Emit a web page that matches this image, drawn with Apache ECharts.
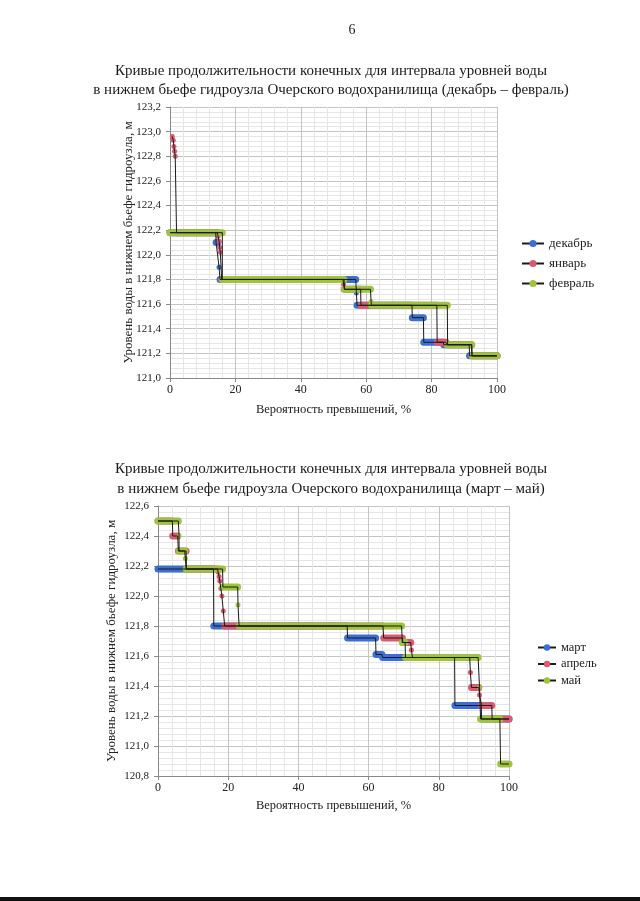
<!DOCTYPE html>
<html>
<head>
<meta charset="utf-8">
<script src="https://cdn.jsdelivr.net/npm/echarts@6/dist/echarts.min.js"></script>
<style>
html,body{margin:0;padding:0;background:#fff;}
#chart{width:640px;height:901px;}
#bar{position:absolute;left:0;top:897px;width:640px;height:4px;background:#111;}
</style>
</head>
<body>
<div id="chart"></div>
<div id="bar"></div>
<script>
// ---- Data: steps [xStart, xEnd, level]; xStart == xEnd marks a single point ----
const months1 = ['декабрь', 'январь', 'февраль'];
const months2 = ['март', 'апрель', 'май'];

const dec = [
  [0, 14.0, 122.18], [14.1, 14.6, 122.10], [15.0, 15.0, 121.90], [15.3, 56.8, 121.80],
  [57.0, 57.0, 121.69], [57.2, 74.0, 121.59], [74.1, 77.5, 121.49], [77.6, 83.6, 121.29],
  [83.7, 91.5, 121.27], [91.6, 100, 121.18]
];
const jan = [
  [0.7, 0.7, 122.96], [1.0, 1.0, 122.93], [1.2, 1.2, 122.88], [1.4, 1.4, 122.84], [1.6, 1.6, 122.80],
  [2.0, 14.5, 122.18], [14.7, 14.7, 122.15], [15.0, 15.0, 122.11], [15.2, 15.2, 122.06],
  [15.4, 15.4, 122.02], [15.8, 52.9, 121.80], [53.1, 53.1, 121.76], [53.3, 58.3, 121.72],
  [58.4, 81.6, 121.59], [81.7, 84.4, 121.29], [84.6, 92.2, 121.27], [92.3, 100, 121.18]
];
const feb = [
  [0, 16.0, 122.18], [16.0, 53.2, 121.80], [53.4, 61.3, 121.72], [61.5, 61.5, 121.62],
  [61.6, 84.8, 121.59], [84.9, 92.3, 121.27], [92.4, 100, 121.18]
];
const mar = [
  [0, 15.8, 122.18], [15.9, 53.9, 121.80], [54.0, 62.0, 121.72], [62.1, 63.8, 121.61],
  [64.0, 84.5, 121.59], [84.6, 92.1, 121.27], [92.2, 100, 121.18]
];
const apr = [
  [0, 4.1, 122.50], [4.2, 5.6, 122.40], [5.8, 8.0, 122.30], [8.1, 17.0, 122.18],
  [17.1, 17.1, 122.16], [17.4, 17.4, 122.13], [17.6, 17.6, 122.10], [17.9, 17.9, 122.05],
  [18.2, 18.2, 122.00], [18.6, 18.6, 121.90], [19.0, 64.1, 121.80], [64.3, 69.6, 121.72],
  [69.8, 72.0, 121.69], [72.2, 72.2, 121.64], [72.5, 88.8, 121.59], [89.0, 89.0, 121.49],
  [89.3, 91.4, 121.39], [91.6, 91.6, 121.34], [92.2, 95.1, 121.27], [95.2, 100, 121.18]
];
const may = [
  [0, 5.8, 122.50], [6.0, 6.0, 122.40], [6.0, 7.6, 122.30], [7.8, 7.8, 122.25],
  [8.0, 18.4, 122.18], [18.5, 22.7, 122.06], [22.8, 22.8, 121.94], [23.1, 69.4, 121.80],
  [69.6, 70.4, 121.69], [70.5, 91.2, 121.59], [91.6, 91.6, 121.39], [91.9, 97.4, 121.18],
  [97.6, 100, 120.88]
];

const colors = ['#3b6fd4', '#dc5a70', '#9dc43a'];
const title1 = 'Кривые продолжительности конечных для интервала уровней воды\nв нижнем бьефе гидроузла Очерского водохранилища (декабрь – февраль)';
const title2 = 'Кривые продолжительности конечных для интервала уровней воды\nв нижнем бьефе гидроузла Очерского водохранилища (март – май)';
const xName = 'Вероятность превышений, %';
const yName = 'Уровень воды в нижнем бьефе гидроузла, м';

const serif = 'Liberation Serif, Times New Roman, serif';

function bandSeries(name, data, color, gi) {
  return {
    name: name + '_band', type: 'custom', xAxisIndex: gi, yAxisIndex: gi, z: 2,
    encode: { x: [0, 1], y: 2 },
    data: data,
    renderItem: function (params, api) {
      const p1 = api.coord([api.value(0), api.value(2)]);
      const p2 = api.coord([api.value(1), api.value(2)]);
      if (Math.abs(p2[0] - p1[0]) < 0.5) {
        return { type: 'circle', shape: { cx: p1[0], cy: p1[1], r: 2.5 }, style: { fill: color } };
      }
      return {
        type: 'line', shape: { x1: p1[0], y1: p1[1], x2: p2[0], y2: p2[1] },
        style: { stroke: color, lineWidth: 7, lineCap: 'round' }
      };
    }
  };
}
function pathSeries(name, data, color, gi) {
  const pts = [];
  data.forEach(s => { pts.push([s[0], s[2]]); if (s[1] !== s[0]) pts.push([s[1], s[2]]); });
  return {
    name: name, type: 'line', xAxisIndex: gi, yAxisIndex: gi, z: 3,
    data: pts, symbol: 'circle', symbolSize: 6, showSymbol: false,
    itemStyle: { color: color },
    lineStyle: { color: '#1a1a1a', width: 1 },
    emphasis: { disabled: true }, animation: false
  };
}

function xAxisCfg(gi) {
  return {
    type: 'value', gridIndex: gi, min: 0, max: 100, interval: 20,
    name: xName, nameLocation: 'middle', nameGap: gi === 0 ? 25 : 23,
    nameTextStyle: { fontFamily: serif, fontSize: 12.5, color: '#222' },
    axisLine: { show: true, onZero: false, lineStyle: { color: '#888' } },
    axisTick: { show: true, length: 4, lineStyle: { color: '#888' } },
    axisLabel: { fontFamily: serif, fontSize: 12, color: '#222', margin: 6 },
    splitLine: { show: true, lineStyle: { color: '#c4c4c4' } },
    minorTick: { show: false, splitNumber: 5 },
    minorSplitLine: { show: true, lineStyle: { color: '#e6e6e6' } }
  };
}
function yAxisCfg(gi, min, max) {
  return {
    type: 'value', gridIndex: gi, min: min, max: max, interval: 0.2,
    name: yName, nameLocation: 'middle', nameGap: gi === 0 ? 35 : 40,
    nameMoveOverlap: false,
    nameTextStyle: { fontFamily: serif, fontSize: 13, color: '#222' },
    axisLine: { show: true, lineStyle: { color: '#888' } },
    axisTick: { show: true, length: 4, lineStyle: { color: '#888' } },
    axisLabel: { fontFamily: serif, fontSize: 11, color: '#222', margin: 9,
      formatter: v => v.toFixed(1).replace('.', ',') },
    splitLine: { show: true, lineStyle: { color: '#c4c4c4' } },
    minorTick: { show: false, splitNumber: 5 },
    minorSplitLine: { show: true, lineStyle: { color: '#e6e6e6' } }
  };
}

const sets1 = [dec, jan, feb];
const sets2 = [mar, apr, may];
const series = [];
sets1.forEach((d, i) => series.push(bandSeries(months1[i], d, colors[i], 0)));
sets2.forEach((d, i) => series.push(bandSeries(months2[i], d, colors[i], 1)));
sets1.forEach((d, i) => series.push(pathSeries(months1[i], d, colors[i], 0)));
sets2.forEach((d, i) => series.push(pathSeries(months2[i], d, colors[i], 1)));

const chart = echarts.init(document.getElementById('chart'), null, { renderer: 'canvas' });
chart.setOption({
  animation: false,
  backgroundColor: '#ffffff',
  title: [
    { text: '6', left: 347, top: 18, textAlign: 'center',
      textStyle: { fontFamily: serif, fontSize: 14, fontWeight: 'normal', color: '#222' } },
    { text: title1, left: 326, top: 57, textAlign: 'center',
      textStyle: { fontFamily: serif, fontSize: 15, fontWeight: 'normal', color: '#1a1a1a', lineHeight: 19 } },
    { text: title2, left: 326, top: 454, textAlign: 'center',
      textStyle: { fontFamily: serif, fontSize: 15, fontWeight: 'normal', color: '#1a1a1a', lineHeight: 20 } }
  ],
  legend: [
    { data: months1, orient: 'vertical', left: 516, top: 232, itemGap: 7, itemWidth: 22, itemHeight: 9,
      textStyle: { fontFamily: serif, fontSize: 13, color: '#222' } },
    { data: months2, orient: 'vertical', left: 532, top: 636, itemGap: 3.5, itemWidth: 18, itemHeight: 8,
      textStyle: { fontFamily: serif, fontSize: 12.5, color: '#222' } }
  ],
  grid: [
    { left: 170, top: 107, width: 327, height: 271 },
    { left: 158, top: 506, width: 351, height: 270 }
  ],
  xAxis: [xAxisCfg(0), xAxisCfg(1)],
  yAxis: [yAxisCfg(0, 121.0, 123.2), yAxisCfg(1, 120.8, 122.6)],
  series: series
});
</script>
</body>
</html>
